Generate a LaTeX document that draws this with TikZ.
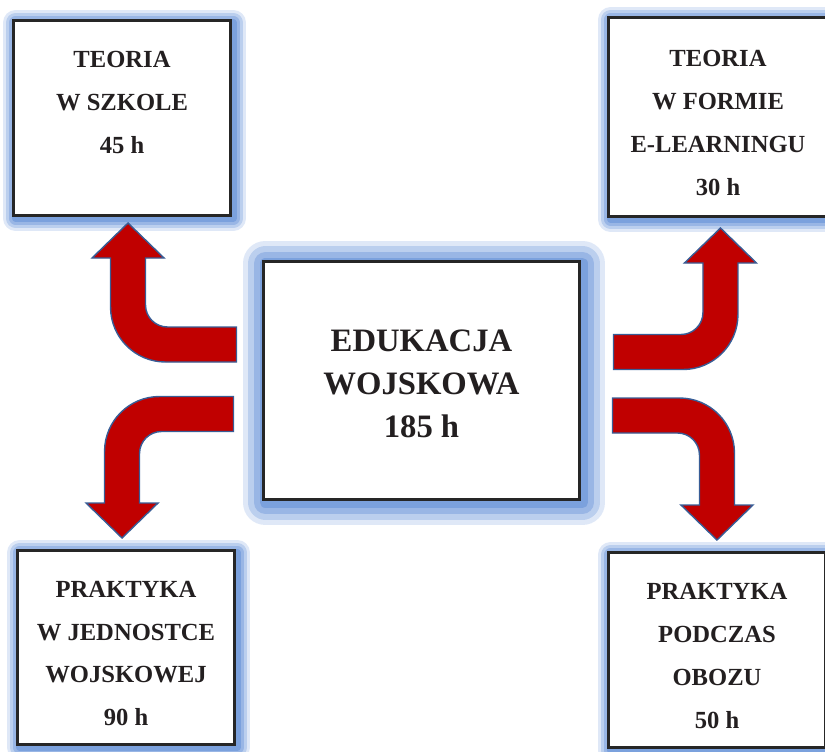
\documentclass[tikz,border=0pt]{standalone}
\usepackage{fontspec}
\setmainfont{Liberation Serif}
\usetikzlibrary{positioning, calc}

\definecolor{glowblue}{RGB}{79,129,210}
\definecolor{arrowred}{RGB}{192,0,0}
\definecolor{arrowline}{RGB}{56,93,150}
\definecolor{inkgray}{RGB}{35,31,32}

\newcommand{\toppad}[1]{\rule{0pt}{#1}}

\begin{document}
\begin{tikzpicture}[
            x=0.02cm, y=-0.02cm,
            glow/.style={
                preaction={draw=glowblue, opacity=.18, line width=2*#1, line join=round, transform canvas={shift={(1.4pt,-1.4pt)}}},
                preaction={draw=glowblue, opacity=.25, line width=1.5*#1, line join=round, transform canvas={shift={(1.4pt,-1.4pt)}}},
                preaction={draw=glowblue, opacity=.32, line width=#1, line join=round, transform canvas={shift={(1.4pt,-1.4pt)}}},
                preaction={draw=glowblue, opacity=.4, line width=.5*#1, line join=round, transform canvas={shift={(1.4pt,-1.4pt)}}}},
            box/.style={draw=black!85, line width=1.7pt, fill=white, inner sep=0pt, align=center, text=inkgray},
            mainbox/.style={box, glow=13pt, minimum width=6.34cm, minimum height=4.78cm,
                font=\fontsize{18.6}{24.4}\selectfont\bfseries},
            sidebox/.style={box, glow=7pt, minimum width=4.36cm, minimum height=3.92cm,
                font=\fontsize{14}{24.4}\selectfont\bfseries},
            arrowbody/.style={fill=arrowred, draw=arrowline, line width=0.8pt},
            pics/bent/.style 2 args={code={
                \filldraw[arrowbody] (0,17.5) -- (-#1+37.5,17.5)
                    arc[start angle=90, end angle=180, radius=55]
                    -- (-#1-17.5,-#2+35) -- (-#1-36,-#2+35) -- (-#1,-#2)
                    -- (-#1+36,-#2+35) -- (-#1+17.5,-#2+35)
                    -- (-#1+17.5,-39.5)
                    arc[start angle=180, end angle=90, radius=22]
                    -- (0,-17.5) -- cycle;
            }}
        ]

        \useasboundingbox (0,0) rectangle (825,751);

        % ======================================
        % Boxes
        % ======================================
        \node[mainbox] (edu) at (421.5,380.5) {\toppad{16.3pt}EDUKACJA\\WOJSKOWA\\185 h};

        \node[sidebox] (szkola) at (122,118) {\toppad{16pt}TEORIA\\W SZKOLE\\45 h\\\mbox{}};
        \node[sidebox, minimum width=4.4cm, minimum height=4cm] (elearn) at (718,117) {\toppad{16pt}TEORIA\\W FORMIE\\E-LEARNINGU\\30 h};
        \node[sidebox, minimum height=3.9cm] (jednostka) at (126,647.5) {\toppad{16pt}PRAKTYKA\\W JEDNOSTCE\\WOJSKOWEJ\\90 h};
        \node[sidebox] (oboz) at (717,650) {\toppad{16pt}PRAKTYKA\\PODCZAS\\OBOZU\\50 h};

        % ======================================
        % Bent arrows (edu -> side boxes)
        % ======================================
        \coordinate (szkola-tail) at ($(edu.west)+(-25,-36)$);
        \coordinate (elearn-tail) at ($(edu.east)+(32,-28.5)$);
        \coordinate (jednostka-tail) at ($(edu.west)+(-28,33.5)$);
        \coordinate (oboz-tail) at ($(edu.east)+(31,35)$);

        \pic at (szkola-tail) {bent={108.5}{121.5}};
        \pic[xscale=-1] at (elearn-tail) {bent={107}{124}};
        \pic[yscale=-1] at (jednostka-tail) {bent={111.5}{124}};
        \pic[xscale=-1, yscale=-1] at (oboz-tail) {bent={104.5}{124.5}};

\end{tikzpicture}
\end{document}
